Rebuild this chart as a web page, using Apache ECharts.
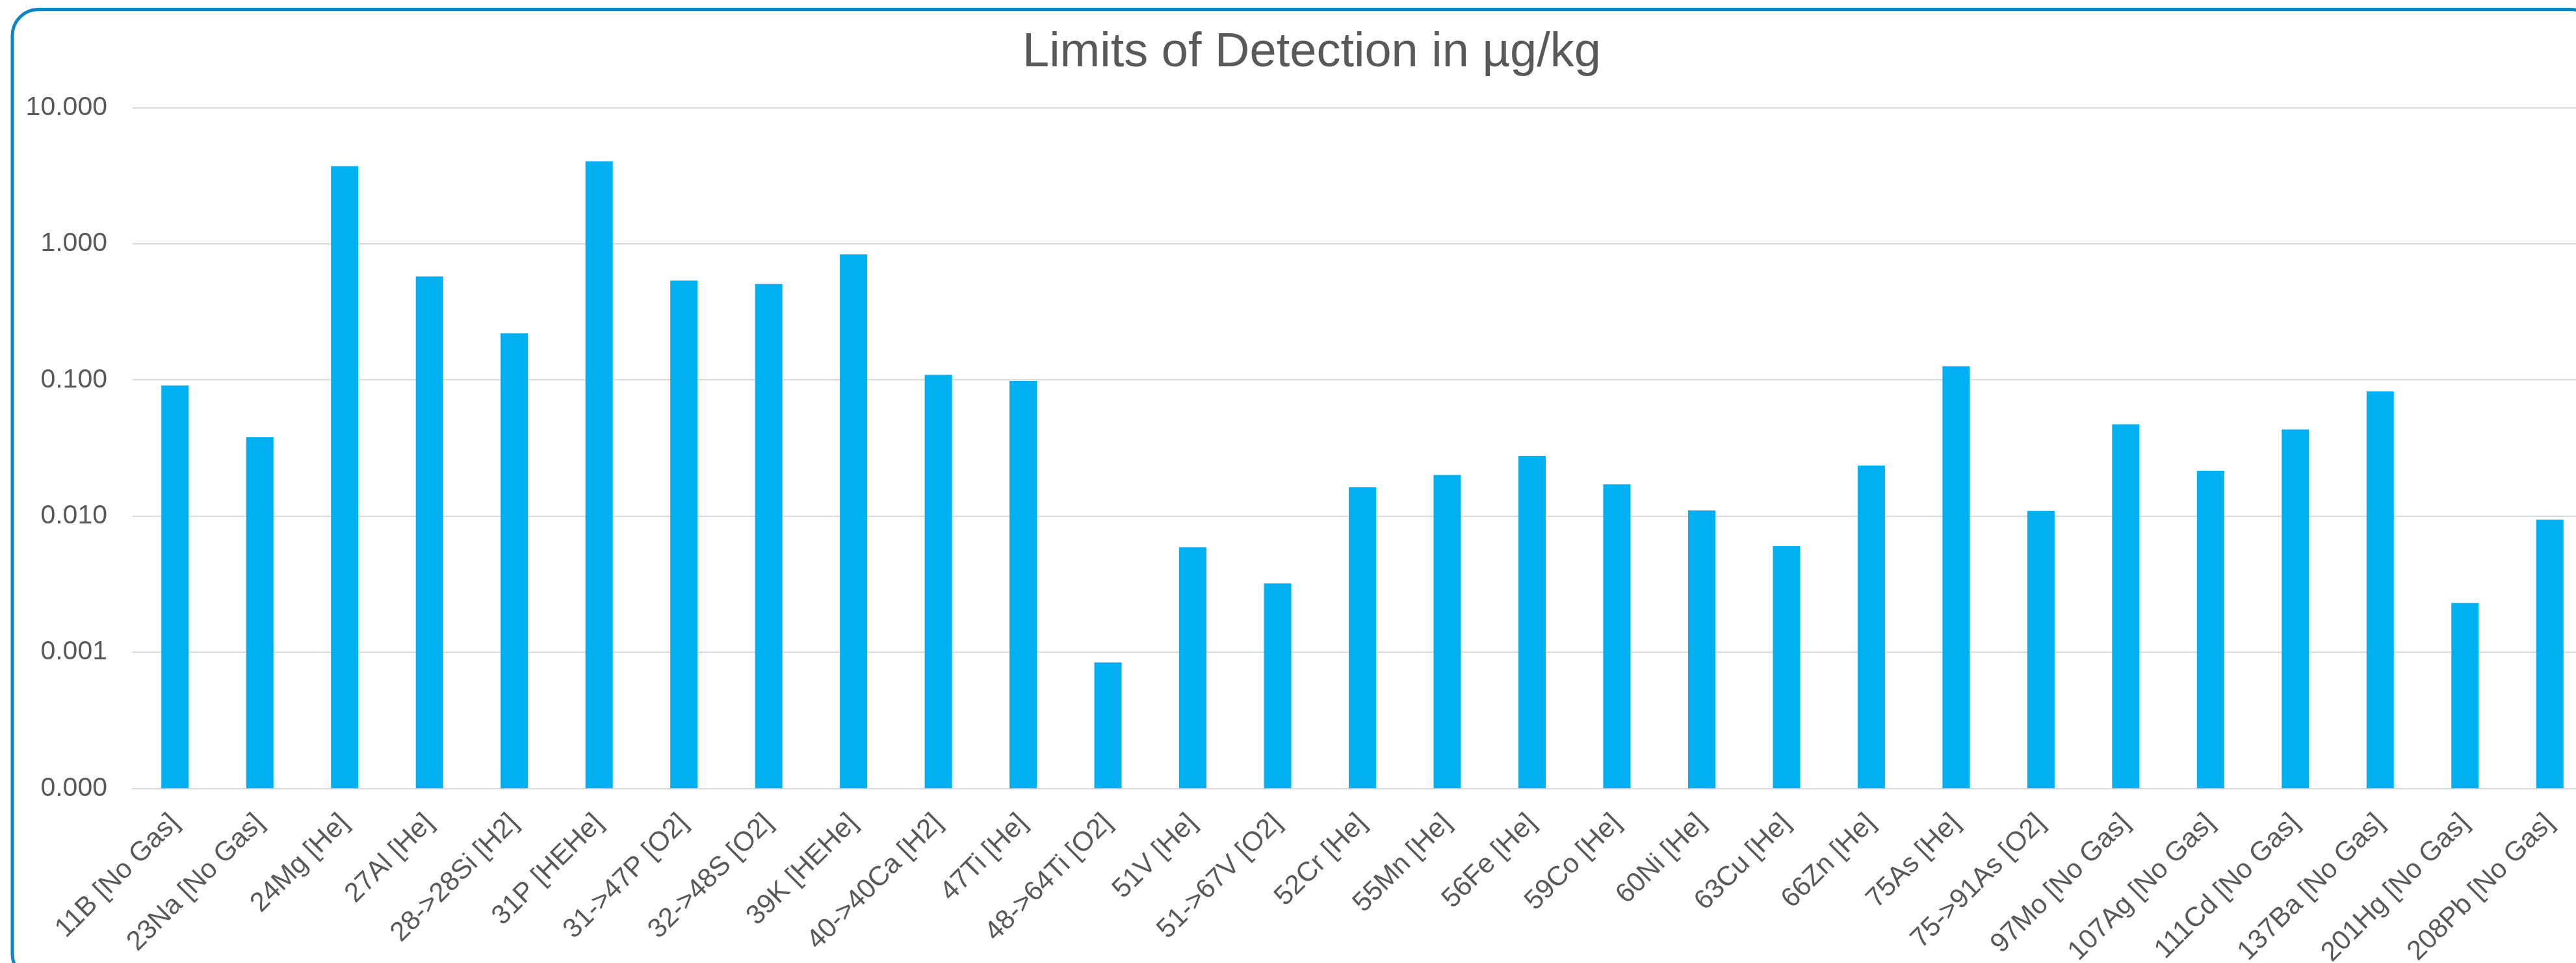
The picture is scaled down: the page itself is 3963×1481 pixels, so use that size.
<!DOCTYPE html>
<html>
<head>
<meta charset="utf-8">
<script src="https://cdn.jsdelivr.net/npm/echarts@6/dist/echarts.min.js"></script>
<style>
  html, body { margin: 0; padding: 0; background: #fff; }
  #chart { width: 3963px; height: 1481px; }
</style>
</head>
<body>
<div id="chart"></div>
<script>
// categories (isotope + cell mode)
var elements = [
  "11B [No Gas]", "23Na [No Gas]", "24Mg [He]", "27Al [He]", "28->28Si [H2]",
  "31P [HEHe]", "31->47P [O2]", "32->48S [O2]", "39K [HEHe]", "40->40Ca [H2]",
  "47Ti [He]", "48->64Ti [O2]", "51V [He]", "51->67V [O2]", "52Cr [He]",
  "55Mn [He]", "56Fe [He]", "59Co [He]", "60Ni [He]", "63Cu [He]",
  "66Zn [He]", "75As [He]", "75->91As [O2]", "97Mo [No Gas]", "107Ag [No Gas]",
  "111Cd [No Gas]", "137Ba [No Gas]", "201Hg [No Gas]", "208Pb [No Gas]"
];
// limits of detection, µg/kg
var lod = [
  0.091, 0.038, 3.72, 0.574, 0.220,
  4.03, 0.537, 0.506, 0.836, 0.109,
  0.098, 0.00084, 0.0059, 0.0032, 0.0163,
  0.0200, 0.0277, 0.0171, 0.0110, 0.0060,
  0.0235, 0.126, 0.0109, 0.0472, 0.0215,
  0.0432, 0.0822, 0.0023, 0.0094
];
var yMin = 0.0001;
var yMax = 10;

var chart = echarts.init(document.getElementById("chart"));
var textColor = "#595959";
var font = "Liberation Sans, Arial, sans-serif";
var barWidth = 42;

// bars on a log axis start at 1 in echarts, so draw them from the axis floor
function renderBar(params, api) {
  var top = api.coord([api.value(0), api.value(1)]);
  var base = api.coord([api.value(0), yMin]);
  return {
    type: "rect",
    shape: { x: top[0] - barWidth / 2, y: top[1], width: barWidth, height: base[1] - top[1] },
    style: { fill: "#00B0F0" }
  };
}

chart.setOption({
  animation: false,
  title: {
    text: "Limits of Detection in µg/kg",
    left: 1568,
    top: 40,
    textStyle: { color: textColor, fontSize: 74, fontWeight: "normal", fontFamily: font }
  },
  // rounded frame around the chart area
  graphic: [
    {
      type: "rect",
      shape: { x: 19, y: 14.5, width: 3976, height: 1493, r: 40 },
      style: { fill: null, stroke: "#0A85C6", lineWidth: 5 },
      silent: true
    }
  ],
  grid: {
    left: 204,
    right: -25,
    top: 165.5,
    bottom: 268.7,
    outerBoundsMode: "none"
  },
  xAxis: {
    type: "category",
    data: elements,
    axisLine: { lineStyle: { color: "#D9D9D9", width: 2 } },
    axisTick: { show: false },
    axisLabel: {
      rotate: 45,
      interval: 0,
      margin: 47,
      color: textColor,
      fontSize: 42,
      fontFamily: font
    }
  },
  yAxis: {
    type: "log",
    logBase: 10,
    min: yMin,
    max: yMax,
    axisLine: { show: false },
    axisTick: { show: false },
    splitLine: { lineStyle: { color: "#D9D9D9", width: 2 } },
    axisLabel: {
      margin: 39,
      color: textColor,
      fontSize: 41,
      fontFamily: font,
      formatter: function (v) { return v.toFixed(3); }
    }
  },
  series: [
    {
      type: "custom",
      renderItem: renderBar,
      encode: { x: 0, y: 1 },
      data: lod.map(function (v, i) { return [i, v]; }),
      z: 1
    }
  ]
});
</script>
</body>
</html>
